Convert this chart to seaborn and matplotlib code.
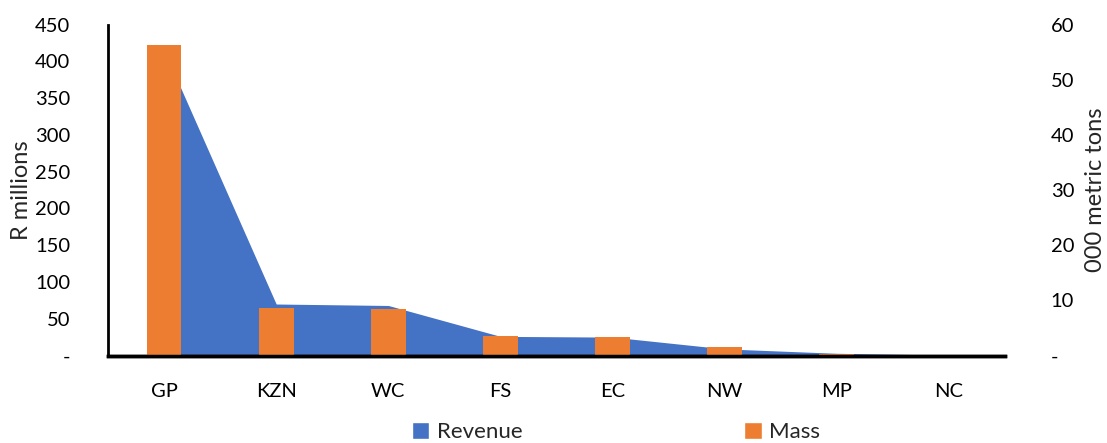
import matplotlib
matplotlib.use("Agg")
import matplotlib.pyplot as plt
import seaborn as sns
import pandas as pd
from matplotlib.patches import Patch
from matplotlib.ticker import FuncFormatter

categories = ["GP", "KZN", "WC", "FS", "EC", "NW", "MP", "NC"]
revenue = [415, 70, 68, 26, 25, 9, 3, 0.5]
mass = [56.3, 8.6, 8.5, 3.5, 3.3, 1.5, 0.3, 0.05]

left_ticks = [0, 50, 100, 150, 200, 250, 300, 350, 400, 450]
right_ticks = [0, 10, 20, 30, 40, 50, 60]

BLUE = "#4472C4"
ORANGE = "#ED7D31"

sns.set_theme(style="white")
plt.rcParams["font.family"] = ["Lato", "DejaVu Sans"]

df = pd.DataFrame({"cat": categories, "revenue": revenue, "mass": mass})

fig = plt.figure(figsize=(11.07, 4.43), dpi=100)
ax1 = fig.add_axes([108 / 1107, 1 - 355.5 / 443, (1005 - 108) / 1107, 331 / 443])
ax2 = ax1.twinx()

xs = list(range(len(categories)))
ax1.fill_between(xs, df["revenue"], 0, color=BLUE, linewidth=0)
sns.barplot(data=df, x="cat", y="mass", ax=ax2, color=ORANGE, width=0.31,
            saturation=1, order=categories, linewidth=0, edgecolor=ORANGE)

ax1.set_xlim(-0.5, len(categories) - 0.5)
ax2.set_xlim(-0.5, len(categories) - 0.5)
ax1.set_ylim(0, 450)
ax2.set_ylim(0, 60)

fmt = FuncFormatter(lambda v, p: "-" if v == 0 else f"{int(v)}")
ax1.set_yticks(left_ticks)
ax1.yaxis.set_major_formatter(fmt)
ax2.set_yticks(right_ticks)
ax2.yaxis.set_major_formatter(fmt)

ax1.set_xticks(xs)
ax1.set_xticklabels(categories)
ax2.set_xlabel("")
ax1.set_xlabel("")

for ax in (ax1, ax2):
    ax.tick_params(length=0, labelsize=14.5, colors="#000000")
    for s in ax.spines.values():
        s.set_visible(False)
ax1.tick_params(axis="x", pad=20)
ax1.tick_params(axis="y", pad=27)
ax2.tick_params(axis="y", pad=33)

ax1.spines["left"].set_visible(True)
ax1.spines["left"].set_color("black")
ax1.spines["left"].set_linewidth(2)
for ax in (ax1, ax2):
    ax.spines["bottom"].set_visible(True)
    ax.spines["bottom"].set_color("black")
    ax.spines["bottom"].set_linewidth(2.5)

ax1.set_ylabel("R millions", fontsize=17, labelpad=2)
ax2.set_ylabel("000 metric tons", fontsize=17, labelpad=8)
ax1.grid(False)
ax2.grid(False)

handles = [Patch(facecolor=BLUE, label="Revenue"), Patch(facecolor=ORANGE, label="Mass")]
fig.legend(handles=handles, loc="center", bbox_to_anchor=(616 / 1107, 1 - 432 / 443),
           ncol=2, frameon=False, fontsize=16, handlelength=0.8, handleheight=0.8,
           handletextpad=0.35, columnspacing=9.95, borderpad=0.1)

fig.savefig("out.png", dpi=100)
